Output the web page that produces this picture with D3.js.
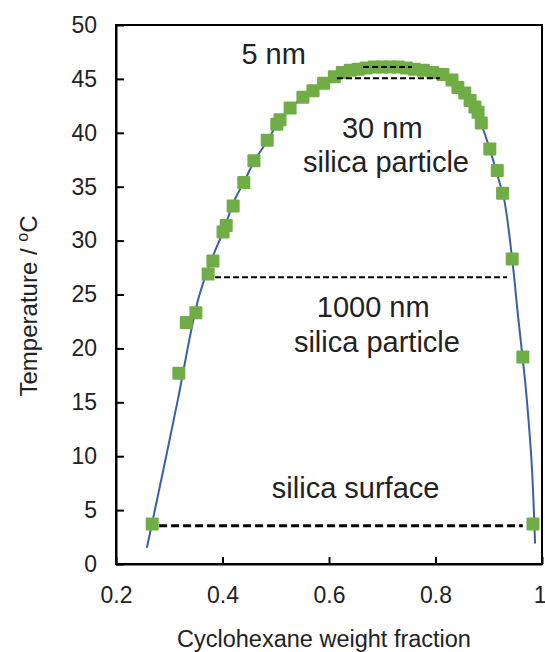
<!DOCTYPE html>
<html>
<head>
<meta charset="utf-8">
<script src="https://cdn.jsdelivr.net/npm/d3@7"></script>
<style>
  body { margin: 0; background: #fff; }
  text { font-family: "Liberation Sans", Arial, sans-serif; fill: #222; }
</style>
</head>
<body>
<div id="chart"></div>
<script>
// measured points (cyclohexane weight fraction, temperature)
var pointsX = [0.268, 0.318, 0.332, 0.350, 0.373, 0.382, 0.401, 0.407, 0.420, 0.440,
    0.459, 0.484, 0.502, 0.508, 0.527, 0.551, 0.570, 0.590, 0.610, 0.625,
    0.640, 0.655, 0.670, 0.685, 0.700, 0.715, 0.730, 0.745, 0.760, 0.777,
    0.795, 0.814, 0.831, 0.842, 0.855, 0.865, 0.874, 0.880, 0.886, 0.902,
    0.916, 0.926, 0.944, 0.964, 0.983];
var pointsY = [3.7, 17.7, 22.4, 23.3, 26.9, 28.1, 30.8, 31.4, 33.2, 35.4,
    37.4, 39.3, 40.8, 41.2, 42.3, 43.3, 43.9, 44.6, 45.2, 45.6,
    45.8, 45.9, 46.0, 46.1, 46.1, 46.1, 46.1, 46.0, 45.9, 45.8,
    45.6, 45.4, 44.9, 44.2, 43.7, 43.0, 42.4, 41.9, 40.9, 38.5,
    36.5, 34.4, 28.3, 19.2, 3.7];

// fitted curve
var fitX = [0.258, 0.290, 0.316, 0.354, 0.380, 0.400, 0.423, 0.440, 0.460, 0.485,
    0.505, 0.530, 0.550, 0.570, 0.590, 0.620, 0.650, 0.680, 0.720, 0.760,
    0.790, 0.820, 0.840, 0.860, 0.880, 0.900, 0.919, 0.929, 0.944, 0.955,
    0.968, 0.974, 0.981, 0.987];
var fitY = [1.5, 9.0, 15.2, 24.5, 28.3, 30.7, 33.8, 35.4, 37.4, 39.3,
    41.0, 42.4, 43.3, 44.0, 44.6, 45.4, 45.9, 46.1, 46.2, 46.0,
    45.6, 45.0, 44.2, 43.2, 41.5, 38.8, 35.6, 33.8, 28.3, 23.0,
    17.1, 13.8, 9.0, 1.9];

// dashed tie lines
var tieLabels = ["5 nm", "30 nm", "1000 nm", "silica surface"];
var tieStart = [0.664, 0.615, 0.386, 0.281];
var tieEnd = [0.756, 0.808, 0.934, 0.964];
var tieTemp = [46.1, 45.05, 26.6, 3.55];

var xTicks = [0.2, 0.4, 0.6, 0.8, 1];
var yTicks = [0, 5, 10, 15, 20, 25, 30, 35, 40, 45, 50];

var width = 545, height = 652;
var margin = { top: 25, right: 3, bottom: 88, left: 116 };

var svg = d3.select("#chart").append("svg")
    .attr("width", width)
    .attr("height", height);

var x = d3.scaleLinear().domain([0.2, 1]).range([margin.left, width - margin.right]);
var y = d3.scaleLinear().domain([0, 50]).range([height - margin.bottom, margin.top]);

// frame
svg.append("rect")
    .attr("x", x(0.2)).attr("y", y(50))
    .attr("width", x(1) - x(0.2)).attr("height", y(0) - y(50))
    .attr("fill", "none").attr("stroke", "#000").attr("stroke-width", 2);

// axes, ticks pointing inward
var xAxis = svg.append("g")
    .attr("transform", "translate(0," + y(0) + ")")
    .call(d3.axisBottom(x).tickValues(xTicks).tickSizeInner(-7).tickSizeOuter(0)
        .tickFormat(function(d) { return d === 1 ? "1" : d3.format(".1f")(d); }));
xAxis.select(".domain").attr("stroke-width", 2);
xAxis.selectAll(".tick line").attr("stroke-width", 2);
xAxis.selectAll("text").attr("font-size", 23).attr("y", 23).attr("fill", "#222");
// last label sits at the right edge
xAxis.selectAll("text").filter(function(d) { return d === 1; })
    .attr("text-anchor", "end").attr("x", 4);

var yAxis = svg.append("g")
    .attr("transform", "translate(" + x(0.2) + ",0)")
    .call(d3.axisLeft(y).tickValues(yTicks).tickSizeInner(-8).tickSizeOuter(0));
yAxis.select(".domain").attr("stroke-width", 2);
yAxis.selectAll(".tick line").attr("stroke-width", 2);
yAxis.selectAll("text").attr("font-size", 23).attr("x", -19).attr("fill", "#222");

// fit curve
var fit = fitX.map(function(v, i) { return [v, fitY[i]]; });
svg.append("path")
    .datum(fit)
    .attr("d", d3.line()
        .x(function(d) { return x(d[0]); })
        .y(function(d) { return y(d[1]); })
        .curve(d3.curveCatmullRom))
    .attr("fill", "none")
    .attr("stroke", "#3a5fa8")
    .attr("stroke-width", 2);

// markers
var pts = pointsX.map(function(v, i) { return [v, pointsY[i]]; });
svg.selectAll(".pt")
    .data(pts)
    .enter().append("rect")
    .attr("class", "pt")
    .attr("x", function(d) { return x(d[0]) - 6.5; })
    .attr("y", function(d) { return y(d[1]) - 6.5; })
    .attr("width", 13)
    .attr("height", 13)
    .attr("rx", 1)
    .attr("fill", "#70ad47");

// tie lines
svg.selectAll(".tie")
    .data(tieTemp)
    .enter().append("line")
    .attr("class", "tie")
    .attr("x1", function(d, i) { return x(tieStart[i]); })
    .attr("x2", function(d, i) { return x(tieEnd[i]); })
    .attr("y1", function(d) { return y(d); })
    .attr("y2", function(d) { return y(d); })
    .attr("stroke", "#000")
    .attr("stroke-width", function(d, i) { return i == 3 ? 3 : 2; })
    .attr("stroke-dasharray", function(d, i) { return i == 3 ? "8,4" : "6,3"; });

// annotations
var notes = [
    { t: tieLabels[0], cx: 0.496, v: 46.4 },
    { t: tieLabels[1], cx: 0.700, v: 39.5 },
    { t: "silica particle", cx: 0.707, v: 36.4 },
    { t: tieLabels[2], cx: 0.683, v: 22.9 },
    { t: "silica particle", cx: 0.690, v: 19.7 },
    { t: tieLabels[3], cx: 0.650, v: 6.1 }
];
svg.selectAll(".note")
    .data(notes)
    .enter().append("text")
    .attr("class", "note")
    .attr("x", function(d) { return x(d.cx); })
    .attr("y", function(d) { return y(d.v); })
    .attr("text-anchor", "middle")
    .attr("font-size", 29)
    .text(function(d) { return d.t; });

// axis titles
svg.append("text")
    .attr("x", 324).attr("y", 647)
    .attr("text-anchor", "middle")
    .attr("font-size", 23.5)
    .text("Cyclohexane weight fraction");

var yt = svg.append("text")
    .attr("transform", "translate(37,306) rotate(-90)")
    .attr("text-anchor", "middle")
    .attr("font-size", 24);
yt.append("tspan").text("Temperature / ");
yt.append("tspan").attr("font-size", 16).attr("dy", -9).text("o");
yt.append("tspan").attr("dy", 9).text("C");
</script>
</body>
</html>
